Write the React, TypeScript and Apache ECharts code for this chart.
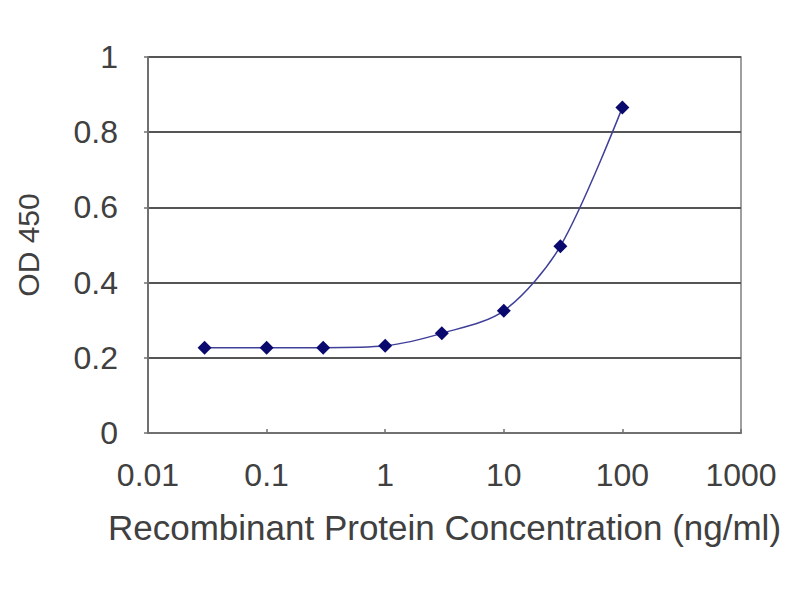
import React, { useEffect, useRef } from "react";
import * as echarts from "echarts";

const concentrations = [0.03, 0.1, 0.3, 1, 3, 10, 30, 100];
const odValues = [0.227, 0.227, 0.227, 0.232, 0.265, 0.325, 0.497, 0.866];
const xTickLabels = ["0.01", "0.1", "1", "10", "100", "1000"];
const yTickLabels = ["0", "0.2", "0.4", "0.6", "0.8", "1"];

export default function App() {
  const ref = useRef<HTMLDivElement>(null);
  useEffect(() => {
    document.body.style.margin = "0";
    const chart = echarts.init(ref.current!, null, { renderer: "svg" });
    const font = "Liberation Sans, Arial, sans-serif";
    chart.setOption({
      animation: false,
      backgroundColor: "#ffffff",
      grid: {
        left: 148,
        right: 59,
        top: 57,
        bottom: 167,
        show: true,
        borderColor: "#808080",
        borderWidth: 1.5,
      },
      xAxis: {
        type: "log",
        logBase: 10,
        min: 0.01,
        max: 1000,
        name: "Recombinant Protein Concentration (ng/ml)",
        nameLocation: "middle",
        nameGap: 77,
        nameTextStyle: { fontFamily: font, fontSize: 35, color: "#404040" },
        axisLine: { show: true, lineStyle: { color: "#707070", width: 2 } },
        axisTick: { show: true, inside: true, length: 4, lineStyle: { color: "#707070", width: 1.5 } },
        minorTick: { show: false },
        splitLine: { show: false },
        axisLabel: {
          margin: 26,
          fontFamily: font,
          fontSize: 32,
          color: "#404040",
          formatter: (v: number) => {
            const idx = Math.round(Math.log10(v)) + 2;
            return xTickLabels[idx] ?? String(v);
          },
        },
      },
      yAxis: {
        type: "value",
        min: 0,
        max: 1,
        interval: 0.2,
        name: "OD 450",
        nameLocation: "middle",
        nameGap: 105,
        nameRotate: 90,
        nameTextStyle: { fontFamily: font, fontSize: 30, color: "#404040" },
        axisLine: { show: true, lineStyle: { color: "#707070", width: 2 } },
        axisTick: { show: true, inside: false, length: 4, lineStyle: { color: "#707070", width: 1.5 } },
        splitLine: { show: true, lineStyle: { color: "#555555", width: 2 } },
        axisLabel: {
          margin: 30,
          fontFamily: font,
          fontSize: 32,
          color: "#404040",
          formatter: (v: number) => yTickLabels[Math.round(v * 5)] ?? String(v),
        },
      },
      series: [
        {
          type: "line",
          data: concentrations.map((c, i) => [c, odValues[i]]),
          smooth: 0.3,
          symbol: "diamond",
          symbolSize: 14,
          itemStyle: { color: "#0a0a6e" },
          lineStyle: { color: "#40409a", width: 1.5 },
        },
      ],
    });
    return () => chart.dispose();
  }, []);
  return <div ref={ref} style={{ width: 800, height: 600 }} />;
}
